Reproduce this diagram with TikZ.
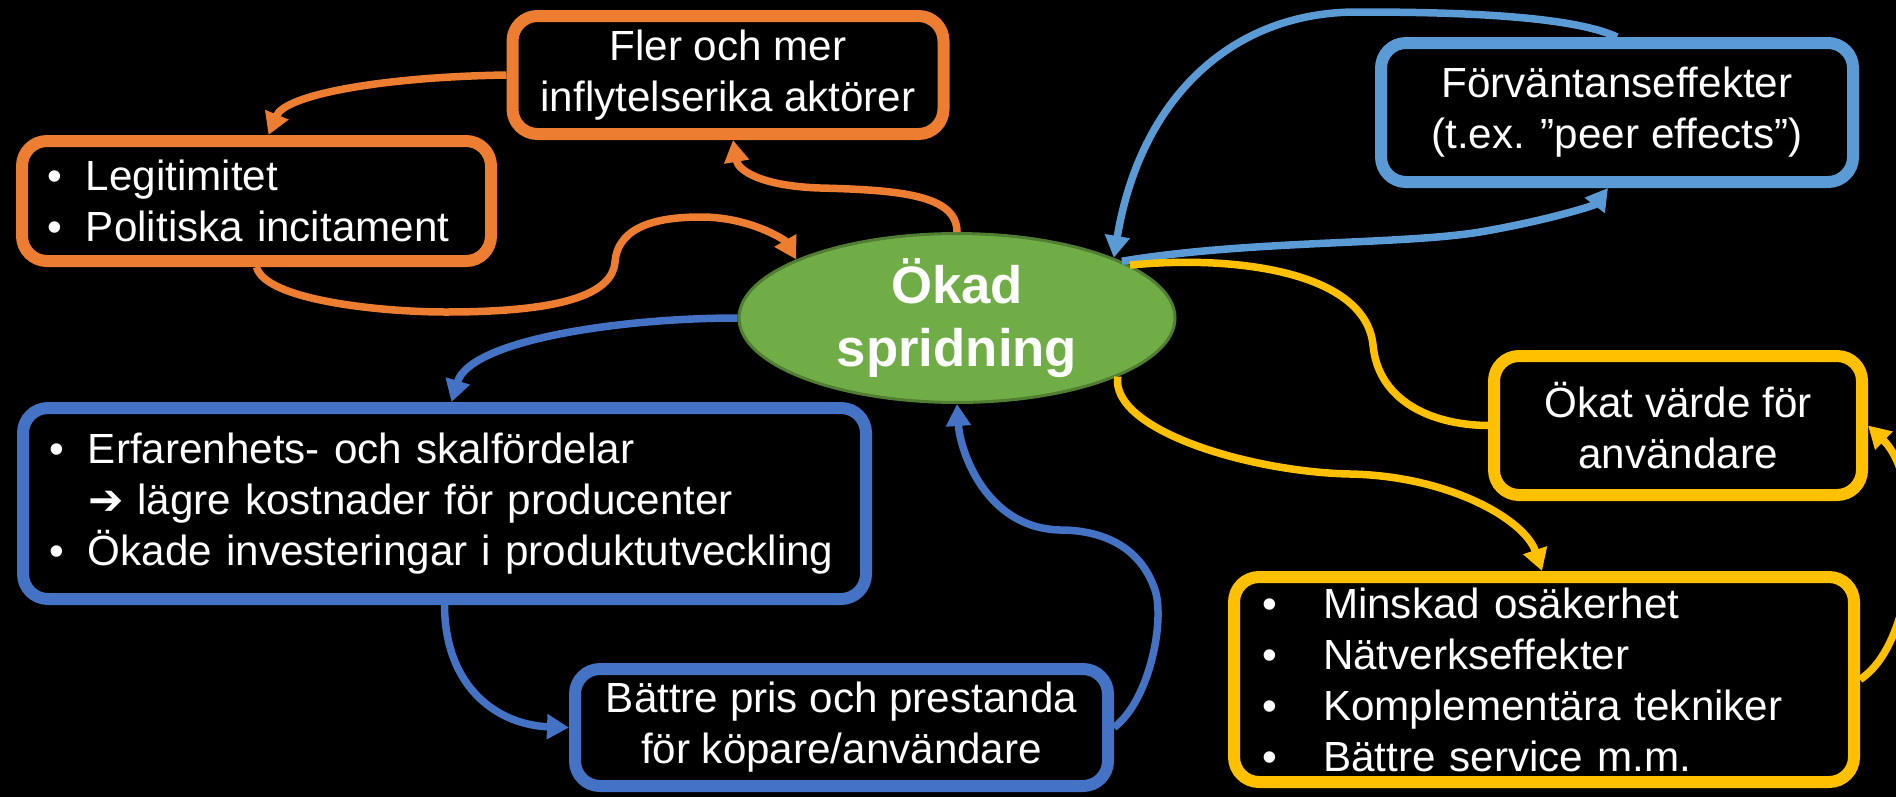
\documentclass[tikz,border=0pt]{standalone}
\usepackage{fontspec}
\setmainfont{Liberation Sans}
\newfontfamily\symfont{DejaVu Sans}
\usetikzlibrary{arrows.meta,shapes.geometric}
\definecolor{cOrange}{HTML}{ED7D31}
\definecolor{cLBlue}{HTML}{5B9BD5}
\definecolor{cDBlue}{HTML}{4472C4}
\definecolor{cYellow}{HTML}{FFC000}
\definecolor{cGreen}{HTML}{70AD47}
\definecolor{cGreenDark}{HTML}{507E32}
\newcommand{\bul}[2]{\makebox[#1][l]{\textbullet}#2}
\begin{document}
\begin{tikzpicture}[x=0.1mm,y=-0.1mm,
  box/.style={draw, line width=1.2mm, rounded corners=2.5mm, fill=black, text=white,
    font=\fontsize{12}{14.5}\selectfont, inner sep=0pt, align=center},
  listbox/.style={box, align=left},
  ell/.style={ellipse, draw=cGreenDark, line width=0.3mm, fill=cGreen, text=white,
    font=\fontsize{15}{18}\selectfont\bfseries, align=center, inner sep=0pt,
    minimum width=43.6mm, minimum height=16mm},
  con/.style={line width=0.75mm, -{Triangle[length=2.2mm,width=2.4mm]}},
  plain/.style={line width=0.75mm}]
\useasboundingbox (0,0) rectangle (1896,796);
\fill[black] (-10,-10) rectangle (1906,806);

% nodes
\node[box, draw=cOrange, minimum width=43.1mm, minimum height=11.8mm] (fler) at (728,75)
  {Fler och mer\\inflytelserika aktörer};
\node[listbox, draw=cOrange, minimum width=46.9mm, minimum height=12mm,
  inner xsep=2.5mm, text width=41.9mm] (legit) at (256.5,201)
  {\bul{3.9mm}{Legitimitet}\\\bul{3.9mm}{Politiska incitament}};
\node[ell] (ell) at (957,318) {Ökad\\spridning};
\node[box, draw=cLBlue, minimum width=47.2mm, minimum height=13.9mm] (forv) at (1617,112.5)
  {Förväntanseffekter\\(t.ex. ”peer effects”)};
\node[box, draw=cYellow, minimum width=36.8mm, minimum height=13.9mm] (okat) at (1678,425.5)
  {Ökat värde för\\användare};
\node[listbox, draw=cYellow, minimum width=62mm, minimum height=20.5mm,
  inner xsep=2.86mm, text width=56.28mm] (minsk) at (1544,679.5)
  {\bul{6.04mm}{Minskad osäkerhet}\\\bul{6.04mm}{Nätverkseffekter}\\
   \bul{6.04mm}{Komplementära tekniker}\\\bul{6.04mm}{Bättre service m.m.}};
\node[listbox, draw=cDBlue, minimum width=84.3mm, minimum height=19.1mm,
  inner xsep=2.66mm, text width=78.98mm] (erf) at (444.5,503.5)
  {\bul{3.84mm}{Erfarenhets- och skalfördelar}\\
   \hspace*{3.84mm}{\symfont\bfseries ➔} lägre kostnader för producenter\\
   \bul{3.84mm}{Ökade investeringar i produktutveckling}};
\node[box, draw=cDBlue, minimum width=53.3mm, minimum height=11.7mm] (batt) at (841.5,727.5)
  {Bättre pris och prestanda\\för köpare/användare};

% orange connectors
\draw[con, cOrange] (fler.west) .. controls (380,77) and (285,95) .. ([xshift=1.2mm]legit.north);
\draw[con, cOrange] (ell.north) .. controls (957,195) and (900,190) .. (820,188)
  .. controls (760,186) and (738,170) .. ([xshift=0.5mm]fler.south);
\draw[con, cOrange] (legit.south) .. controls (265,300) and (380,312) .. (446,312)
  .. controls (560,312) and (612,295) .. (615,262)
  .. controls (618,225) and (660,217) .. (701,217)
  .. controls (750,217) and (785,240) .. (ell.160);

% light blue connectors
\draw[con, cLBlue] (ell.19) .. controls (1250,240) and (1400,245) .. (1480,232)
  .. controls (1550,220) and (1595,205) .. ([xshift=-0.9mm]forv.south);
\draw[con, cLBlue] (forv.north) .. controls (1570,15) and (1450,12) .. (1357,12)
  .. controls (1230,12) and (1140,100) .. (ell.21);

% yellow connectors
\draw[plain, cYellow] (ell.17) .. controls (1230,255) and (1365,270) .. (1373,345)
  .. controls (1378,400) and (1430,425) .. (okat.west);
\draw[con, cYellow] (ell.-20) .. controls (1110,430) and (1250,472) .. (1350,474)
  .. controls (1450,476) and (1525,520) .. ([xshift=-0.2mm]minsk.north);
\draw[con, cYellow] (minsk.east) .. controls (1920,640) and (1925,480) .. (okat.east);

% dark blue connectors
\draw[con, cDBlue] (ell.west) .. controls (620,318) and (470,340) .. ([xshift=0.7mm]erf.north);
\draw[con, cDBlue] (erf.south) .. controls (445,690) and (500,725) .. (batt.west);
\draw[con, cDBlue] (batt.east) .. controls (1150,700) and (1165,620) .. (1155,590)
  .. controls (1140,545) and (1100,530) .. (1060,530)
  .. controls (985,528) and (960,450) .. (ell.south);
\end{tikzpicture}
\end{document}
